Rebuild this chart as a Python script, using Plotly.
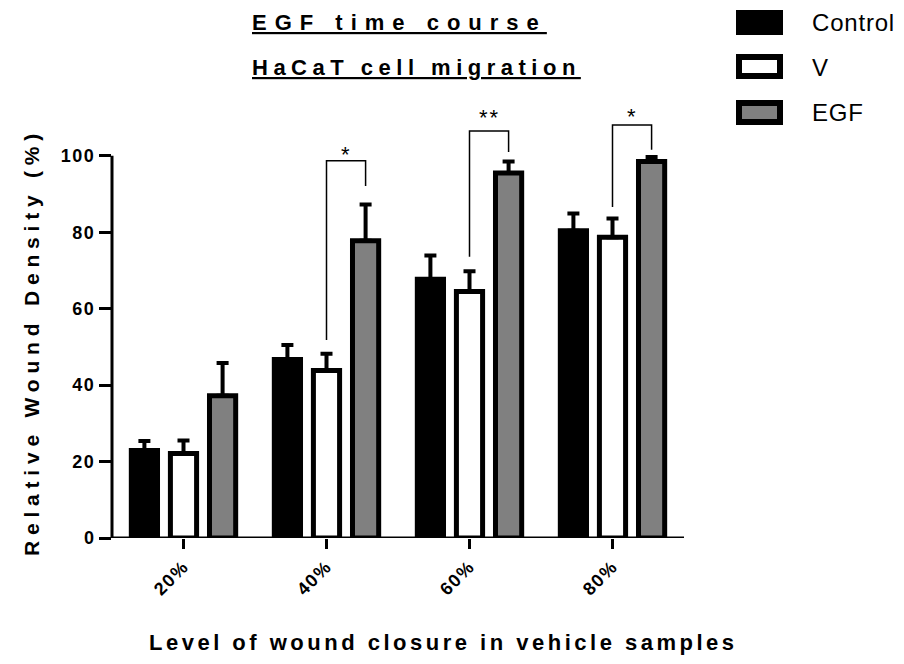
import plotly.graph_objects as go

# ---------------- data ----------------
categories = ["20%", "40%", "60%", "80%"]
series_names = ["Control", "V", "EGF"]
control_mean = [22.9, 46.7, 67.7, 80.4]
control_err = [2.5, 3.8, 6.2, 4.5]
v_mean = [22.1, 43.8, 64.5, 78.7]
v_err = [3.4, 4.4, 5.3, 4.9]
egf_mean = [37.2, 77.8, 95.5, 98.5]
egf_err = [8.6, 9.5, 3.0, 1.2]
y_ticks = [0, 20, 40, 60, 80, 100]
y_tick_labels = ["0", "20", "40", "60", "80", "100"]

# significance comparisons: group index, label, bracket top, left leg end, right leg end, star height
sig_groups = [1, 2, 3]
sig_labels = ["*", "**", "*"]
sig_top = [98.7, 106.5, 108.1]
sig_left_end = [51.8, 73.6, 86.6]
sig_right_end = [92.1, 101.0, 101.6]
sig_star_y = [101.8, 111.5, 112.0]

title_lines = ["EGF time course", "HaCaT cell migration"]
x_title = "Level of wound closure in vehicle samples"
y_title = "Relative Wound Density (%)"

# ---------------- styling ----------------
FONT = "Liberation Sans, Arial, sans-serif"
fills = ["#000000", "#ffffff", "#808080"]
W, H = 904, 664
OFF = 8  # page body margin
ML, MT = 104, 102
PW, PH = 572, 428
MR, MB = W - ML - PW, H - MT - PH
BARGAP = 0.18
SLOT = (1 - BARGAP) / 3


def px(p):
    return (p - OFF - ML) / PW


def py(p):
    return (MT + PH - (p - OFF)) / PH


def sp(text, ls):
    return f'<span style="letter-spacing:{ls}px">{text}</span>'


fig = go.Figure()
for name, mean, err, fill in zip(series_names, [control_mean, v_mean, egf_mean],
                                 [control_err, v_err, egf_err], fills):
    fig.add_trace(go.Bar(
        x=categories, y=mean, name=name,
        marker=dict(color=fill, line=dict(color="black", width=5)),
        error_y=dict(type="data", symmetric=False, array=err,
                     arrayminus=[0] * len(err), color="black",
                     thickness=4, width=6),
        showlegend=False,
    ))

shapes = []
# axis lines
shapes.append(dict(type="line", xref="paper", yref="y", x0=0, x1=0, y0=0, y1=100,
                   line=dict(color="black", width=3)))
shapes.append(dict(type="line", xref="paper", yref="y", x0=0, x1=1, y0=0, y1=0,
                   line=dict(color="black", width=3)))

annotations = []
# significance brackets
for g, lab, top, le, re, sy in zip(sig_groups, sig_labels, sig_top, sig_left_end,
                                   sig_right_end, sig_star_y):
    xl = g + 0.0
    xr = g + SLOT
    shapes.append(dict(type="path", xref="x", yref="y",
                       path=f"M {xl} {le} L {xl} {top} L {xr} {top} L {xr} {re}",
                       line=dict(color="black", width=1.5)))
    annotations.append(dict(x=(xl + xr) / 2, y=sy, xref="x", yref="y", text=sp(lab, 2),
                            showarrow=False, yshift=-6,
                            font=dict(family=FONT, size=22, color="black")))

# manual legend
leg_tops = [10, 54, 100]
for name, fill, top in zip(series_names, fills, leg_tops):
    shapes.append(dict(type="rect", xref="paper", yref="paper",
                       x0=px(739), x1=px(780), y0=py(top + 3), y1=py(top + 22),
                       fillcolor=fill, line=dict(color="black", width=6)))
    annotations.append(dict(x=px(810), y=py(top + 13), xref="paper", yref="paper",
                            xanchor="left", yanchor="middle", showarrow=False,
                            text=sp(name, 0.8),
                            font=dict(family=FONT, size=24, color="black")))

# title lines
for line, cy, ls in zip(title_lines, [23, 68], [8, 5.5]):
    annotations.append(dict(x=px(250), y=py(cy), xref="paper", yref="paper",
                            xanchor="left", yanchor="middle", showarrow=False,
                            text=sp(line, ls),
                            font=dict(family=FONT, size=22, color="black",
                                      weight="bold", lineposition="under")))

# axis titles
annotations.append(dict(x=px(443), y=py(642), xref="paper", yref="paper",
                        xanchor="center", yanchor="middle", showarrow=False,
                        text=sp(x_title, 3.5),
                        font=dict(family=FONT, size=22, color="black", weight="bold")))
annotations.append(dict(x=px(31), y=py(342), xref="paper", yref="paper",
                        xanchor="center", yanchor="middle", showarrow=False,
                        textangle=-90, text=sp(y_title, 5.8),
                        font=dict(family=FONT, size=21, color="black", weight="bold")))

fig.update_layout(
    width=W, height=H,
    margin=dict(l=ML, r=MR, t=MT, b=MB, pad=0),
    paper_bgcolor="white", plot_bgcolor="white",
    barmode="group", bargap=BARGAP, bargroupgap=0.33,
    shapes=shapes, annotations=annotations,
    font=dict(family=FONT, color="black"),
)
fig.update_xaxes(
    type="category", range=[-0.5, 3.5], showline=False, showgrid=False, zeroline=False,
    ticks="outside", ticklen=10, tickwidth=3, tickcolor="black",
    tickvals=categories, ticktext=[sp(c, 1.5) for c in categories],
    tickangle=-45, tickfont=dict(family=FONT, size=18, color="black", weight="bold"),
)
fig.update_yaxes(
    range=[0, 112], showline=False, showgrid=False, zeroline=False,
    ticks="outside", ticklen=12, tickwidth=3, tickcolor="black",
    tickvals=y_ticks, ticktext=[sp(t, 1.5) for t in y_tick_labels],
    tickfont=dict(family=FONT, size=18, color="black", weight="bold"),
)

fig.write_html("out.html")
